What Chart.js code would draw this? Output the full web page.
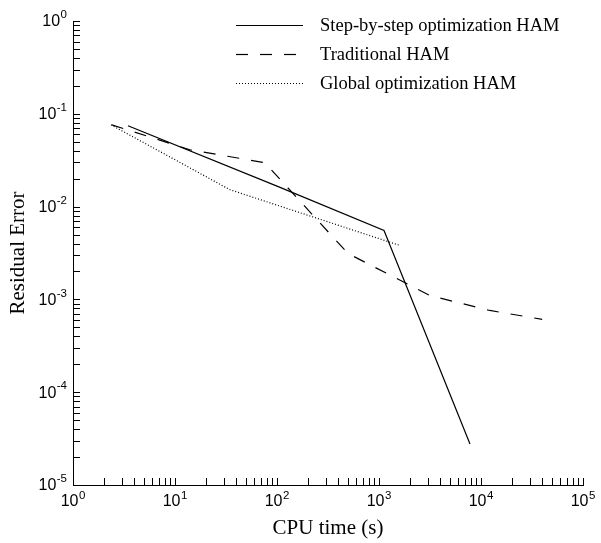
<!DOCTYPE html>
<html>
<head>
  <title>Residual error vs CPU time</title>
  <script src="https://cdn.jsdelivr.net/npm/chart.js@4.4.1/dist/chart.umd.min.js"></script>
  <style>
    body { margin: 0; background: #fff; }
    canvas { display: block; }
  </style>
</head>
<body>
  <canvas id="chart" width="601" height="543"></canvas>

  <script>
    // values (log-log)
    const seriesNames = ['Step-by-step optimization HAM', 'Traditional HAM', 'Global optimization HAM'];

    const stepTime = [3.46, 100, 1120, 7800];
    const stepError = [0.0743, 0.0166, 0.00552, 2.76e-5];

    const tradTime = [2.4, 14, 76, 497, 3160, 12200, 39800];
    const tradError = [0.076, 0.041, 0.0297, 0.00312, 0.0011, 7.6e-4, 6.1e-4];

    const globTime = [2.36, 34.6, 1607];
    const globError = [0.076, 0.0152, 0.00381];

    const xDecades = [0, 1, 2, 3, 4, 5];
    const yDecades = [0, -1, -2, -3, -4, -5];

    const dashes = [[], [12, 12], [1, 2]];

    function toPoints(xs, ys) {
      return xs.map((v, i) => ({ x: v, y: ys[i] }));
    }

    // ticks inside the frame, 10^n labels, titles and legend
    const decor = {
      id: 'decor',
      afterDraw(chart) {
        const { ctx, chartArea: a, scales: { x, y } } = chart;
        ctx.save();
        ctx.strokeStyle = '#000';
        ctx.fillStyle = '#000';
        ctx.lineWidth = 1;
        ctx.setLineDash([]);

        const tickLen = 7;
        ctx.beginPath();
        for (let d = 0; d < 5; d++) {
          for (let m = 1; m <= 10; m++) {
            const px = Math.round(x.getPixelForValue(m * Math.pow(10, d))) + 0.5;
            ctx.moveTo(px, a.bottom);
            ctx.lineTo(px, a.bottom - tickLen);
          }
        }
        for (let d = -5; d < 0; d++) {
          for (let m = 1; m <= 10; m++) {
            const py = Math.round(y.getPixelForValue(m * Math.pow(10, d))) + 0.5;
            ctx.moveTo(a.left, py);
            ctx.lineTo(a.left + tickLen, py);
          }
        }
        ctx.stroke();

        const big = '16px "Liberation Sans", Arial, sans-serif';
        const small = '11.5px "Liberation Sans", Arial, sans-serif';
        ctx.textBaseline = 'middle';

        yDecades.forEach(e => {
          const py = y.getPixelForValue(Math.pow(10, e));
          const exp = String(e);
          ctx.font = small;
          const we = ctx.measureText(exp).width;
          const right = a.left - 6;
          ctx.textAlign = 'left';
          ctx.fillText(exp, right - we, py - 6);
          ctx.font = big;
          ctx.textAlign = 'right';
          ctx.fillText('10', right - we - 0.5, py + 1);
        });

        xDecades.forEach(e => {
          const px = x.getPixelForValue(Math.pow(10, e));
          const exp = String(e);
          ctx.font = big;
          const wb = ctx.measureText('10').width;
          ctx.font = small;
          const we = ctx.measureText(exp).width;
          const start = px - (wb + we + 0.5) / 2;
          ctx.textAlign = 'left';
          ctx.font = big;
          ctx.fillText('10', start, a.bottom + 17);
          ctx.font = small;
          ctx.fillText(exp, start + wb + 0.5, a.bottom + 11);
        });

        // axis titles
        ctx.font = '21px "Liberation Serif", "Times New Roman", serif';
        ctx.textAlign = 'center';
        ctx.fillText('CPU time (s)', (a.left + a.right) / 2, 528);
        ctx.save();
        ctx.translate(18, (a.top + a.bottom) / 2);
        ctx.rotate(-Math.PI / 2);
        ctx.fillText('Residual Error', 0, 0);
        ctx.restore();

        // legend
        const rows = [25, 54, 83];
        ctx.font = '18.5px "Liberation Serif", "Times New Roman", serif';
        ctx.textAlign = 'left';
        chart.data.datasets.forEach((ds, i) => {
          ctx.save();
          ctx.lineWidth = ds.borderWidth;
          ctx.setLineDash(ds.borderDash);
          ctx.beginPath();
          ctx.moveTo(236, rows[i] + 0.5);
          ctx.lineTo(303, rows[i] + 0.5);
          ctx.stroke();
          ctx.restore();
          ctx.fillText(ds.label, 320, rows[i] + 1);
        });

        ctx.restore();
      }
    };

    new Chart(document.getElementById('chart'), {
      type: 'line',
      data: {
        datasets: [
          { label: seriesNames[0], data: toPoints(stepTime, stepError) },
          { label: seriesNames[1], data: toPoints(tradTime, tradError) },
          { label: seriesNames[2], data: toPoints(globTime, globError) }
        ].map((ds, i) => Object.assign(ds, {
          borderColor: '#000',
          borderWidth: 1.2,
          borderDash: dashes[i],
          pointRadius: 0,
          tension: 0,
          fill: false
        }))
      },
      options: {
        responsive: false,
        animation: false,
        layout: { padding: { left: 73, right: 18, top: 21, bottom: 58 } },
        plugins: { legend: { display: false }, tooltip: { enabled: false } },
        scales: {
          x: {
            type: 'logarithmic', min: 1, max: 1e5,
            grid: { display: false, drawTicks: false },
            ticks: { display: false },
            border: { display: true, color: '#000', width: 1 }
          },
          y: {
            type: 'logarithmic', min: 1e-5, max: 1,
            grid: { display: false, drawTicks: false },
            ticks: { display: false },
            border: { display: true, color: '#000', width: 1 }
          }
        }
      },
      plugins: [decor]
    });
  </script>
</body>
</html>
